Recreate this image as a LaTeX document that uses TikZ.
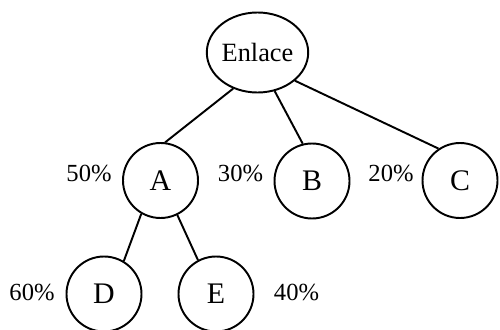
\documentclass[tikz,border=0pt]{standalone}
\usepackage{fontspec}
\setmainfont{Liberation Serif}
\usetikzlibrary{shapes.geometric, positioning}
\tikzset{
	root/.style  ={ellipse, draw=black, line width=1.1pt, minimum width=1.88cm, minimum height=1.6cm, inner sep=0pt, font=\fontsize{15}{18}\selectfont},
	leaf/.style  ={circle, draw=black, line width=1.1pt, minimum size=1.5cm, inner sep=0pt, font=\fontsize{17}{20}\selectfont},
	pct/.style   ={inner sep=0pt, font=\fontsize{14}{17}\selectfont},
	branch/.style={line width=1.1pt},
}
\begin{document}
\begin{tikzpicture}
	\useasboundingbox (0,0) rectangle (10,6.58);
	\node[root] (enl) at (5.15,5.53) {Enlace};
	\node[leaf] (a) at (3.21,2.97) {A};
	\node[leaf] (b) at (6.24,2.96) {B};
	\node[leaf] (c) at (9.20,2.97) {C};
	\node[leaf] (d) at (2.08,0.70) {D};
	\node[leaf] (e) at (4.32,0.70) {E};
	% percentages
	\node[pct] (pa) at (1.78,3.12) {50\%};
	\node[pct] (pb) at (4.81,3.12) {30\%};
	\node[pct] (pc) at (7.82,3.12) {20\%};
	\node[pct] (pd) at (0.64,0.74) {60\%};
	\node[pct] (pe) at (5.93,0.74) {40\%};
	% branches
	\draw[branch] (enl.-124) -- (a.83);
	\draw[branch] (enl.-66) -- (b.104);
	\draw[branch] (enl.-37) -- (c.124);
	\draw[branch] (a.-120) -- (d.59);
	\draw[branch] (a.-64) -- (e.118);
\end{tikzpicture}
\end{document}
